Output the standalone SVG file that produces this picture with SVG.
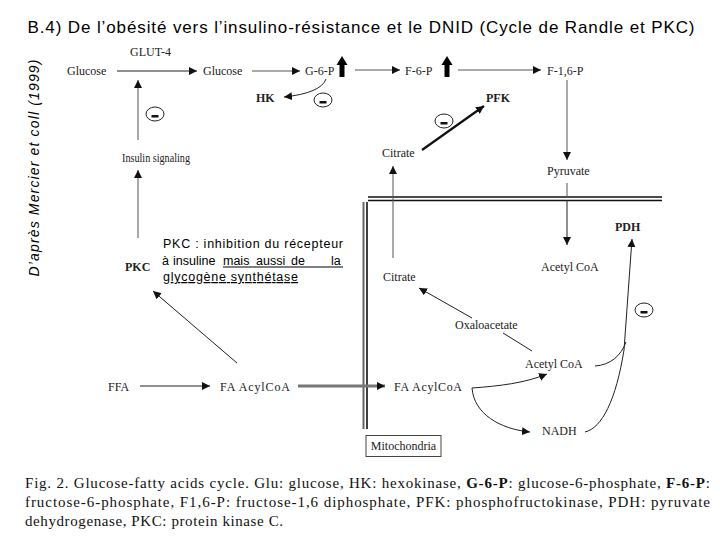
<svg xmlns="http://www.w3.org/2000/svg" width="720" height="540" viewBox="0 0 720 540">
<style>
.t{font-family:"Liberation Serif","Times New Roman",serif;font-size:12px;fill:#222}
.b{font-weight:bold}
.ar{font-family:"Liberation Sans",Arial,sans-serif;fill:#000}
.c{fill:none;stroke:#222;stroke-width:1}
.g{fill:none;stroke:#555;stroke-width:1}
.cap{font-family:"Liberation Serif","Times New Roman",serif;font-size:15px;fill:#111}
.mc{fill:#fff;stroke:#222;stroke-width:1}
</style>
<defs>
<marker id="a" markerUnits="userSpaceOnUse" markerWidth="9" markerHeight="8" refX="8" refY="4" orient="auto">
<path d="M0,0 L8,4 L0,8 z" fill="#111"/>
</marker>
<g id="minus">
<ellipse cx="0" cy="0" rx="9" ry="7" class="mc"/>
<rect x="-3.5" y="1" width="7" height="2.5" fill="#111"/>
</g>
<polygon id="up" points="0,0 5.5,9 2.5,9 2.5,21 -2.5,21 -2.5,9 -5.5,9" fill="#000"/>
</defs>
<rect width="720" height="540" fill="#fff"/>
<text class="ar" x="361" y="33" font-size="17" text-anchor="middle" textLength="667" lengthAdjust="spacing">B.4) De l’obésité vers l’insulino-résistance et le DNID (Cycle de Randle et PKC)</text>
<text class="ar" font-size="14" font-style="italic" text-anchor="middle" transform="translate(39,168) rotate(-90)" textLength="217" lengthAdjust="spacing">D’après Mercier et coll (1999)</text>

<g id="membrane">
<line x1="368" y1="197" x2="662" y2="197" stroke="#111" stroke-width="1.6"/>
<line x1="368" y1="200.5" x2="662" y2="200.5" stroke="#111" stroke-width="1.6"/>
<line x1="363.5" y1="202" x2="363.5" y2="429" stroke="#666" stroke-width="2"/>
<line x1="367" y1="202" x2="367" y2="429" stroke="#111" stroke-width="1.6"/>
</g>

<g id="connectors">
<line class="c" x1="117" y1="71" x2="197" y2="71" marker-end="url(#a)"/>
<line class="g" x1="252" y1="71" x2="300" y2="71" marker-end="url(#a)"/>
<line class="g" x1="355" y1="70" x2="400" y2="70" marker-end="url(#a)"/>
<line class="g" x1="458" y1="70" x2="541" y2="70" marker-end="url(#a)"/>
<line class="g" x1="567" y1="80" x2="567" y2="160" marker-end="url(#a)"/>
<line class="g" x1="567" y1="183" x2="567" y2="198"/>
<line class="c" x1="567" y1="200" x2="567" y2="245" marker-end="url(#a)"/>
<path class="c" d="M326,79 Q321,93 284,97" marker-end="url(#a)"/>
<line x1="422" y1="150" x2="484" y2="106" stroke="#111" stroke-width="2.2" marker-end="url(#a)"/>
<line class="g" x1="393" y1="258" x2="393" y2="166" marker-end="url(#a)"/>
<line class="g" x1="138" y1="140" x2="138" y2="80" marker-end="url(#a)"/>
<line class="g" x1="138" y1="238" x2="138" y2="170" marker-end="url(#a)"/>
<line class="c" x1="237" y1="363" x2="153" y2="291" marker-end="url(#a)"/>
<line class="c" x1="140" y1="386" x2="210" y2="386" marker-end="url(#a)"/>
<line x1="298" y1="386" x2="385" y2="386" stroke="#777" stroke-width="3" marker-end="url(#a)"/>
<line class="c" x1="472" y1="318" x2="419" y2="288" marker-end="url(#a)"/>
<line class="c" x1="503" y1="333" x2="532" y2="351"/>
<path class="c" d="M472,388 C500,386 525,383 547,374" marker-end="url(#a)"/>
<path class="c" d="M472,388 C474,414 500,429 530,432" marker-end="url(#a)"/>
<path class="c" d="M585,432 C602,428 616,400 624,350 L632,239" marker-end="url(#a)"/>
<path class="c" d="M595,366 C610,365 621,356 626,342"/>
</g>

<g id="arrows-up">
<use href="#up" x="342" y="56"/>
<use href="#up" x="447" y="56"/>
</g>

<g id="inhibitors">
<use href="#minus" x="155" y="114"/>
<use href="#minus" x="323" y="100"/>
<use href="#minus" x="444" y="121"/>
<use href="#minus" x="644" y="310"/>
</g>

<g id="n-glut4"><text class="t" x="130" y="56">GLUT-4</text></g>
<g id="n-glucose1"><text class="t" x="67" y="75">Glucose</text></g>
<g id="n-glucose2"><text class="t" x="203" y="75">Glucose</text></g>
<g id="n-g6p"><text class="t" x="305" y="75">G-6-P</text></g>
<g id="n-f6p"><text class="t" x="405" y="75">F-6-P</text></g>
<g id="n-f16p"><text class="t" x="547" y="75">F-1,6-P</text></g>
<g id="n-hk"><text class="t b" x="256" y="102">HK</text></g>
<g id="n-pfk"><text class="t b" x="486" y="102">PFK</text></g>
<g id="n-citrate1"><text class="t" x="382" y="157">Citrate</text></g>
<g id="n-pyruvate"><text class="t" x="547" y="175">Pyruvate</text></g>
<g id="n-insulin"><text class="t" x="122" y="162" textLength="68" lengthAdjust="spacingAndGlyphs">Insulin signaling</text></g>
<g id="n-pkc"><text class="t b" x="125" y="271">PKC</text></g>
<g id="n-pdh"><text class="t b" x="615" y="231">PDH</text></g>
<g id="n-acetyl1"><text class="t" x="541" y="271">Acetyl CoA</text></g>
<g id="n-citrate2"><text class="t" x="383" y="281">Citrate</text></g>
<g id="n-oxalo"><text class="t" x="455" y="329">Oxaloacetate</text></g>
<g id="n-acetyl2"><text class="t" x="525" y="368">Acetyl CoA</text></g>
<g id="n-ffa"><text class="t" x="108" y="391">FFA</text></g>
<g id="n-faacyl1"><text class="t" x="220" y="391" textLength="70" lengthAdjust="spacing">FA AcylCoA</text></g>
<g id="n-faacyl2"><text class="t" x="394" y="391" textLength="68" lengthAdjust="spacing">FA AcylCoA</text></g>
<g id="n-nadh"><text class="t" x="542" y="435">NADH</text></g>
<g id="n-mito">
<rect x="366" y="435.5" width="75" height="21" fill="#fff" stroke="#444" stroke-width="1"/>
<text class="t" x="403.5" y="450" font-size="9.5" text-anchor="middle">Mitochondria</text>
</g>

<g id="note" class="ar" font-size="12.5">
<text x="163" y="248" textLength="180" lengthAdjust="spacing">PKC : inhibition du récepteur</text>
<text x="162" y="265">à</text>
<text x="173" y="265">insuline</text>
<text x="223" y="265">mais</text>
<text x="256" y="265">aussi</text>
<text x="291" y="265">de</text>
<text x="331" y="265">la</text>
<line x1="223" y1="267" x2="343" y2="267" stroke="#000" stroke-width="1"/>
<text x="163" y="281" text-decoration="underline" textLength="135" lengthAdjust="spacing">glycogène synthétase</text>
</g>

<g id="caption" class="cap">
<text x="25" y="488" textLength="685" lengthAdjust="spacing">Fig. 2. Glucose-fatty acids cycle. Glu: glucose, HK: hexokinase, <tspan font-weight="bold">G-6-P</tspan>: glucose-6-phosphate, <tspan font-weight="bold">F-6-P</tspan>:</text>
<text x="25" y="507" textLength="685" lengthAdjust="spacing">fructose-6-phosphate, F1,6-P: fructose-1,6 diphosphate, PFK: phosphofructokinase, PDH: pyruvate</text>
<text x="25" y="526" textLength="258" lengthAdjust="spacing">dehydrogenase, PKC: protein kinase C.</text>
</g>
</svg>
